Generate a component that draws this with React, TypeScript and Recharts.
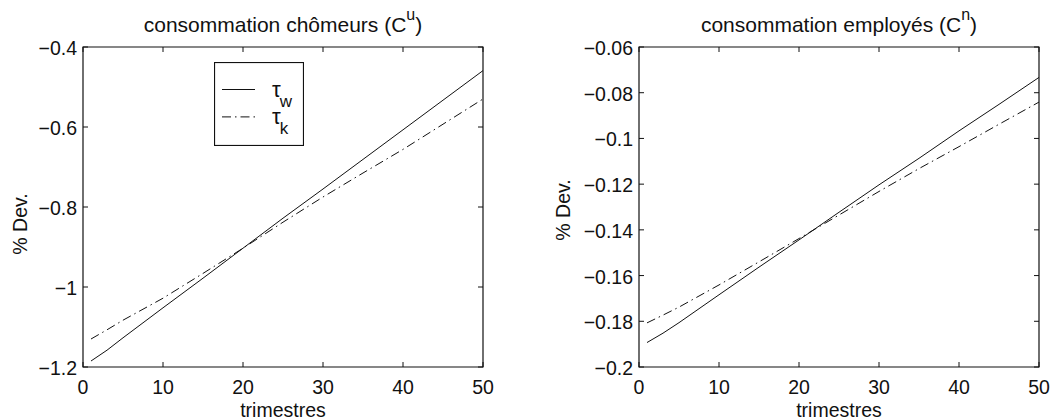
import React from 'react';
import { LineChart, Line, XAxis, YAxis, ReferenceArea, Legend } from 'recharts';

// trimestres sampled along the curves
const quarters = [1, 3, 5, 10, 15, 20, 25, 30, 35, 40, 45, 50];

// consommation chômeurs (C^u)
const chomeursTauW = [-1.185, -1.158, -1.127, -1.052, -0.978, -0.903, -0.828, -0.755, -0.681, -0.607, -0.533, -0.459];
const chomeursTauK = [-1.13, -1.107, -1.083, -1.028, -0.966, -0.903, -0.838, -0.775, -0.715, -0.656, -0.593, -0.53];

// consommation employés (C^n)
const employesTauW = [-0.1893, -0.1852, -0.1806, -0.1684, -0.1563, -0.1444, -0.1323, -0.1203, -0.1087, -0.0967, -0.0851, -0.0733];
const employesTauK = [-0.1807, -0.1773, -0.1738, -0.1641, -0.154, -0.1438, -0.1335, -0.1232, -0.1132, -0.1036, -0.0938, -0.0841];

const xTicks = [0, 10, 20, 30, 40, 50];
const chomeursTicks = [-1.2, -1, -0.8, -0.6, -0.4];
const employesTicks = [-0.2, -0.18, -0.16, -0.14, -0.12, -0.1, -0.08, -0.06];

const FONT = '"Liberation Sans", Arial, Helvetica, sans-serif';
const INK = '#111';
const DASHDOT = '9 4 1.5 4';

const W = 529;
const H = 420;
const TOP = 47;
const BOTTOM = 367;
const PLOT_W = 400;

const fmt = (v: number) => String(v).replace('-', '\u2212');

function makeRows(a: number[], b: number[]) {
  return quarters.map((q, i) => ({ q, tw: a[i], tk: b[i] }));
}

function XTick(props: any) {
  const { x, y, payload } = props;
  return (
    <g>
      <line x1={x} y1={BOTTOM} x2={x} y2={BOTTOM - 5} stroke={INK} />
      <line x1={x} y1={TOP} x2={x} y2={TOP + 5} stroke={INK} />
      <text x={x} y={y + 27} textAnchor="middle" fontSize={19.5} fontFamily={FONT} fill={INK}>
        {fmt(payload.value)}
      </text>
    </g>
  );
}

function YTick(props: any, left: number, right: number) {
  const { x, y, payload } = props;
  return (
    <g>
      <line x1={left} y1={y} x2={left + 5} y2={y} stroke={INK} />
      <line x1={right} y1={y} x2={right - 5} y2={y} stroke={INK} />
      <text x={x - 6} y={y + 8} textAnchor="end" fontSize={19.5} fontFamily={FONT} fill={INK}>
        {fmt(payload.value)}
      </text>
    </g>
  );
}

function LegendBox() {
  const items = [
    { label: 'w', dash: undefined },
    { label: 'k', dash: DASHDOT },
  ];
  return (
    <svg width={90} height={84} style={{ display: 'block' }}>
      <rect x={0.5} y={0.5} width={89} height={83} fill="#fff" stroke={INK} strokeWidth={1.2} />
      {items.map((it, i) => (
        <g key={it.label}>
          <line x1={8} x2={41} y1={27.5 + i * 27.4} y2={27.5 + i * 27.4} stroke={INK} strokeDasharray={it.dash} />
          <text x={58} y={35 + i * 27.4} fontSize={22} fontFamily={FONT} fill={INK}>
            τ<tspan fontSize={17} dx={-1} dy={10}>{it.label}</tspan>
          </text>
        </g>
      ))}
    </svg>
  );
}

const textStyle: React.CSSProperties = {
  position: 'absolute',
  fontFamily: FONT,
  color: INK,
  whiteSpace: 'nowrap',
  textAlign: 'center',
};

interface PanelProps {
  title: string;
  sup: string;
  rows: { q: number; tw: number; tk: number }[];
  ticks: number[];
  yAxisWidth: number;
  showLegend?: boolean;
  devY: number;
  devX: number;
}

function Panel({ title, sup, rows, ticks, yAxisWidth, showLegend, devX, devY }: PanelProps) {
  const left = yAxisWidth;
  const right = yAxisWidth + PLOT_W;
  const lo = ticks[0];
  const hi = ticks[ticks.length - 1];
  return (
    <div style={{ position: 'relative', width: W, height: H, flex: 'none' }}>
      <LineChart width={W} height={H} data={rows} margin={{ top: TOP, right: W - right, bottom: 0, left: 0 }}>
        <XAxis
          dataKey="q"
          type="number"
          domain={[0, 50]}
          ticks={xTicks}
          height={H - BOTTOM}
          tickSize={0}
          tickMargin={0}
          tickLine={false}
          axisLine={false}
          tick={XTick}
        />
        <YAxis
          type="number"
          domain={[lo, hi]}
          ticks={ticks}
          width={yAxisWidth}
          tickSize={0}
          tickMargin={0}
          tickLine={false}
          axisLine={false}
          tick={(p: any) => YTick(p, left, right)}
        />
        <ReferenceArea x1={0} x2={50} y1={lo} y2={hi} fill="none" stroke={INK} strokeWidth={1.2} />
        <Line dataKey="tw" name="τw" stroke={INK} strokeWidth={1} dot={false} isAnimationActive={false} />
        <Line
          dataKey="tk"
          name="τk"
          stroke={INK}
          strokeWidth={1}
          strokeDasharray={DASHDOT}
          dot={false}
          isAnimationActive={false}
        />
        {showLegend && (
          <Legend
            layout="horizontal"
            align="center"
            verticalAlign="middle"
            content={() => <LegendBox />}
            wrapperStyle={{ position: 'absolute', left: 214, top: 62, width: 90, height: 84 }}
          />
        )}
      </LineChart>
      <div style={{ ...textStyle, left: left, width: PLOT_W, top: 14, fontSize: 21, lineHeight: '21px' }}>
        {title} (C<span style={{ fontSize: 16, position: 'relative', top: -12 }}>{sup}</span>)
      </div>
      <div style={{ ...textStyle, left: left, width: PLOT_W, top: 400, fontSize: 19.5, lineHeight: '20px' }}>
        trimestres
      </div>
      <div
        style={{
          ...textStyle,
          left: devX - 40,
          top: devY - 11,
          width: 80,
          height: 22,
          lineHeight: '22px',
          transform: 'rotate(-90deg)',
          fontSize: 19.5,
        }}
      >
        % Dev.
      </div>
    </div>
  );
}

export default function App() {
  return (
    <div style={{ position: 'absolute', left: 0, top: 0, width: 1058, height: 420, background: '#fff', display: 'flex', overflow: 'hidden' }}>
      <Panel
        title="consommation chômeurs"
        sup="u"
        rows={makeRows(chomeursTauW, chomeursTauK)}
        ticks={chomeursTicks}
        yAxisWidth={83}
        showLegend
        devX={20}
        devY={224}
      />
      <Panel
        title="consommation employés"
        sup="n"
        rows={makeRows(employesTauW, employesTauK)}
        ticks={employesTicks}
        yAxisWidth={110}
        devX={34}
        devY={210}
      />
    </div>
  );
}
